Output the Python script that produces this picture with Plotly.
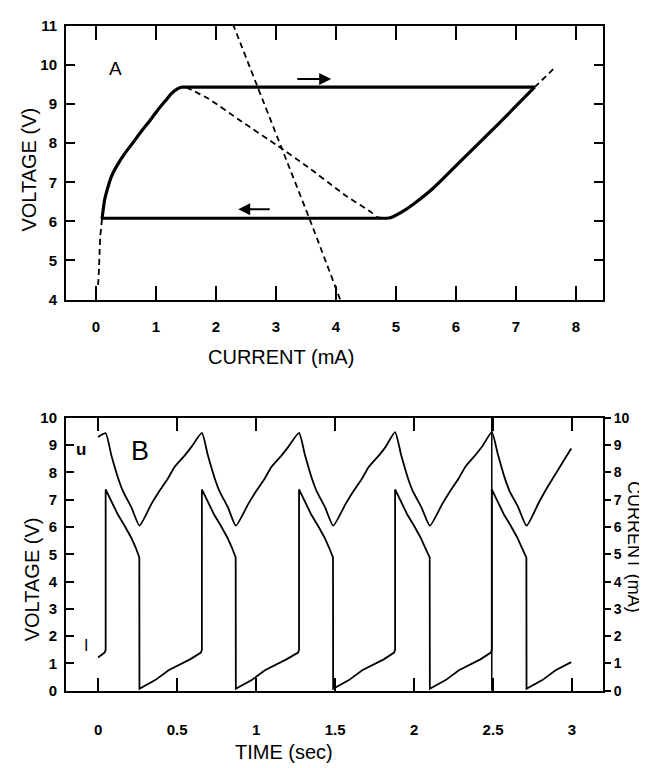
import plotly.graph_objects as go

# ---------------- Panel A data (current mA, voltage V) ----------------
# rising branch (left), top branch, falling diagonal (right), bottom branch
left_I = [0.10, 0.12, 0.145, 0.20, 0.255, 0.36, 0.478, 0.62, 0.76, 0.90, 1.03, 1.15, 1.26, 1.35, 1.42, 1.50]
left_V = [6.06, 6.30, 6.56, 6.88, 7.14, 7.45, 7.73, 8.02, 8.31, 8.58, 8.85, 9.07, 9.27, 9.38, 9.43, 9.43]
top_I = [1.50, 7.31]
top_V = [9.43, 9.43]
right_I = [7.31, 6.64, 6.09, 5.60, 5.30, 5.10, 4.95, 4.87]
right_V = [9.43, 8.39, 7.56, 6.82, 6.45, 6.24, 6.12, 6.08]
bottom_I = [4.87, 0.10]
bottom_V = [6.08, 6.08]

low_I = [0.10, 0.09, 0.07, 0.06, 0.05, 0.04, 0.035, 0.03, 0.02]
low_V = [6.06, 5.90, 5.60, 5.22, 4.80, 4.50, 4.40, 4.35, 4.30]

load_I = [2.28, 3.09, 3.56, 4.07]
load_V = [11.05, 7.89, 6.06, 4.00]

ndr_I = [1.50, 1.87, 2.42, 3.03, 3.53, 4.03, 4.14, 4.59, 4.70, 4.87]
ndr_V = [9.43, 9.14, 8.56, 7.93, 7.39, 6.81, 6.68, 6.23, 6.10, 6.08]

ext_I = [7.31, 7.62]
ext_V = [9.43, 9.89]

arrow_right = dict(I0=3.33, I1=3.92, V=9.64)
arrow_left = dict(I0=2.92, I1=2.37, V=6.31)

# ---------------- Panel B data (time s) ----------------
U_t = [0.000, 0.048,
       0.084, 0.127, 0.158, 0.211, 0.262,
       0.337, 0.380, 0.443, 0.485, 0.549, 0.590, 0.657,
       0.695, 0.738, 0.769, 0.822, 0.872,
       0.950, 0.993, 1.056, 1.098, 1.162, 1.203, 1.272,
       1.310, 1.353, 1.384, 1.437, 1.488,
       1.566, 1.609, 1.672, 1.714, 1.778, 1.819, 1.880,
       1.918, 1.961, 1.992, 2.047, 2.100,
       2.178, 2.221, 2.284, 2.326, 2.390, 2.431, 2.492,
       2.530, 2.573, 2.604, 2.659, 2.712,
       2.790, 2.833, 2.896, 2.938, 2.995]
U_v = [9.30, 9.44,
       8.63, 7.79, 7.31, 6.72, 6.05,
       6.84, 7.25, 7.79, 8.21, 8.63, 8.93, 9.45,
       8.63, 7.79, 7.31, 6.72, 6.05,
       6.84, 7.25, 7.79, 8.21, 8.63, 8.93, 9.45,
       8.63, 7.79, 7.31, 6.72, 6.05,
       6.84, 7.25, 7.79, 8.21, 8.63, 8.93, 9.48,
       8.65, 7.80, 7.32, 6.72, 6.05,
       6.84, 7.25, 7.80, 8.22, 8.65, 8.95, 9.48,
       8.68, 7.82, 7.33, 6.73, 6.05,
       6.90, 7.35, 7.95, 8.35, 8.88]

I_t = [0.000, 0.042, 0.048, 0.048,
       0.088, 0.126, 0.168, 0.210, 0.238, 0.252, 0.261, 0.262,
       0.299, 0.362, 0.446, 0.509, 0.582, 0.651, 0.657, 0.657,
       0.697, 0.735, 0.777, 0.819, 0.847, 0.861, 0.871, 0.872,
       0.909, 0.972, 1.056, 1.119, 1.192, 1.266, 1.272, 1.272,
       1.312, 1.350, 1.392, 1.434, 1.462, 1.476, 1.487, 1.488,
       1.525, 1.588, 1.672, 1.735, 1.808, 1.874, 1.880, 1.880,
       1.920, 1.958, 2.000, 2.042, 2.070, 2.086, 2.099, 2.100,
       2.137, 2.200, 2.284, 2.347, 2.420, 2.486, 2.492, 2.492,
       2.532, 2.570, 2.612, 2.654, 2.682, 2.698, 2.711, 2.712,
       2.749, 2.812, 2.896, 2.959, 2.995]
I_v = [1.22, 1.40, 1.50, 7.38,
       6.90, 6.45, 6.05, 5.61, 5.25, 5.01, 4.89, 0.07,
       0.19, 0.39, 0.75, 0.93, 1.15, 1.40, 1.50, 7.38,
       6.90, 6.45, 6.05, 5.61, 5.25, 5.01, 4.89, 0.07,
       0.19, 0.39, 0.75, 0.93, 1.15, 1.40, 1.50, 7.38,
       6.90, 6.45, 6.05, 5.61, 5.25, 5.01, 4.89, 0.07,
       0.19, 0.39, 0.75, 0.93, 1.15, 1.40, 1.50, 7.38,
       6.90, 6.45, 6.05, 5.61, 5.25, 5.01, 4.89, 0.07,
       0.19, 0.39, 0.75, 0.93, 1.15, 1.40, 1.50, 7.38,
       6.90, 6.45, 6.05, 5.61, 5.25, 5.01, 4.89, 0.07,
       0.19, 0.39, 0.75, 0.93, 1.05]

marker_line_t = [2.492, 2.492]
marker_line_v = [0.0, 10.0]

xA_ticks = [0, 1, 2, 3, 4, 5, 6, 7, 8]
yA_ticks = [4, 5, 6, 7, 8, 9, 10, 11]
xB_ticks = [0, 0.5, 1, 1.5, 2, 2.5, 3]
xB_labels = ["0", "0.5", "1", "1.5", "2", "2.5", "3"]
yB_ticks = [0, 1, 2, 3, 4, 5, 6, 7, 8, 9, 10]

W, H = 647, 768
FONT = "Liberation Sans, Arial, sans-serif"


def px(x):
    return x / W


def py(y):
    return 1 - y / H


fig = go.Figure()

dash = "6px,4px"
# Panel A
for xs, ys, shp in [(left_I, left_V, "spline"), (top_I, top_V, "linear"),
                    (right_I, right_V, "spline"), (bottom_I, bottom_V, "linear")]:
    fig.add_trace(go.Scatter(x=xs, y=ys, mode="lines",
                             line=dict(color="black", width=3.2, shape=shp, smoothing=0.8),
                             xaxis="x", yaxis="y", showlegend=False))
for xs, ys in [(low_I, low_V), (load_I, load_V), (ndr_I, ndr_V), (ext_I, ext_V)]:
    fig.add_trace(go.Scatter(x=xs, y=ys, mode="lines",
                             line=dict(color="black", width=1.8, dash=dash, shape="spline", smoothing=0.6),
                             xaxis="x", yaxis="y", showlegend=False))

# Panel B
fig.add_trace(go.Scatter(x=U_t, y=U_v, mode="lines",
                         line=dict(color="black", width=1.8, shape="spline", smoothing=0.5),
                         xaxis="x2", yaxis="y2", showlegend=False))
fig.add_trace(go.Scatter(x=I_t, y=I_v, mode="lines", line=dict(color="black", width=1.8),
                         xaxis="x2", yaxis="y2", showlegend=False))
fig.add_trace(go.Scatter(x=marker_line_t, y=marker_line_v, mode="lines", line=dict(color="black", width=1.5),
                         xaxis="x2", yaxis="y2", showlegend=False))

tickfont = dict(family=FONT, size=15, color="black", weight="bold")
xdom = [px(58), px(595)]

axis_common = dict(showline=True, linecolor="black", linewidth=2, showgrid=False, zeroline=False,
                   tickcolor="black", tickwidth=2)

fig.update_layout(
    width=W, height=H,
    margin=dict(l=0, r=0, t=0, b=0),
    paper_bgcolor="white", plot_bgcolor="white",
    xaxis=dict(domain=xdom, range=[-0.5, 8.45], anchor="y", tickmode="array", tickvals=xA_ticks,
               ticks="inside", ticklen=14, mirror="ticks", ticklabelstandoff=12, tickfont=tickfont,
               **axis_common),
    yaxis=dict(domain=[py(289), py(9)], range=[4, 11], anchor="x", tickmode="array", tickvals=yA_ticks,
               ticks="inside", ticklen=9, mirror="ticks", ticklabelstandoff=4, tickfont=tickfont,
               **axis_common),
    xaxis2=dict(domain=xdom, range=[-0.203, 3.196], anchor="y2", tickmode="array", tickvals=xB_ticks,
                ticktext=xB_labels, ticks="inside", ticklen=13, mirror="ticks", ticklabelstandoff=24,
                tickfont=tickfont, **axis_common),
    yaxis2=dict(domain=[py(689), py(410)], range=[0, 10], anchor="x2", tickmode="array", tickvals=yB_ticks,
                ticks="inside", ticklen=8, mirror=True, ticklabelstandoff=4, tickfont=tickfont,
                **axis_common),
    yaxis3=dict(domain=[py(689), py(410)], range=[0, 10], anchor="x2", overlaying="y2", side="right",
                tickmode="array", tickvals=yB_ticks, ticks="outside", ticklen=6, ticklabelstandoff=0,
                tickfont=dict(family=FONT, size=14, color="black", weight="bold"), **axis_common),
)

# dummy trace to make yaxis3 visible
fig.add_trace(go.Scatter(x=[None], y=[None], xaxis="x2", yaxis="y3", showlegend=False, hoverinfo="skip"))

title_font = dict(family=FONT, size=20, color="black")
ann = []
ann.append(dict(text="VOLTAGE (V)", x=px(21), y=py(156), xref="paper", yref="paper", textangle=-90,
                showarrow=False, font=title_font, xanchor="center", yanchor="middle"))
ann.append(dict(text="CURRENT (mA)", x=px(273), y=py(348), xref="paper", yref="paper",
                showarrow=False, font=title_font, xanchor="center", yanchor="middle"))
ann.append(dict(text="TIME (sec)", x=px(276), y=py(752), xref="paper", yref="paper",
                showarrow=False, font=title_font, xanchor="center", yanchor="middle"))
ann.append(dict(text="VOLTAGE (V)", x=px(24), y=py(575), xref="paper", yref="paper", textangle=-90,
                showarrow=False, font=title_font, xanchor="center", yanchor="middle"))
ann.append(dict(text="CURRENT (mA)", x=px(626), y=py(542), xref="paper", yref="paper", textangle=90,
                showarrow=False, font=dict(family=FONT, size=18, color="black"),
                xanchor="center", yanchor="middle", borderpad=0))
ann.append(dict(text="A", x=0.32, y=9.9, xref="x", yref="y", showarrow=False,
                font=dict(family=FONT, size=19, color="black")))
ann.append(dict(text="B", x=0.264, y=8.79, xref="x2", yref="y2", showarrow=False,
                font=dict(family=FONT, size=27, color="black")))
ann.append(dict(text="<b>u</b>", x=-0.11, y=8.85, xref="x2", yref="y2", showarrow=False,
                font=dict(family=FONT, size=17, color="black")))
ann.append(dict(text="I", x=-0.075, y=1.67, xref="x2", yref="y2", showarrow=False,
                font=dict(family=FONT, size=16, color="black")))
for a in (arrow_right, arrow_left):
    ann.append(dict(x=a["I1"], y=a["V"], ax=a["I0"], ay=a["V"], xref="x", yref="y", axref="x", ayref="y",
                    showarrow=True, arrowhead=2, arrowsize=1.2, arrowwidth=2, arrowcolor="black", text=""))
fig.update_layout(annotations=ann)

fig.write_html("out.html")
